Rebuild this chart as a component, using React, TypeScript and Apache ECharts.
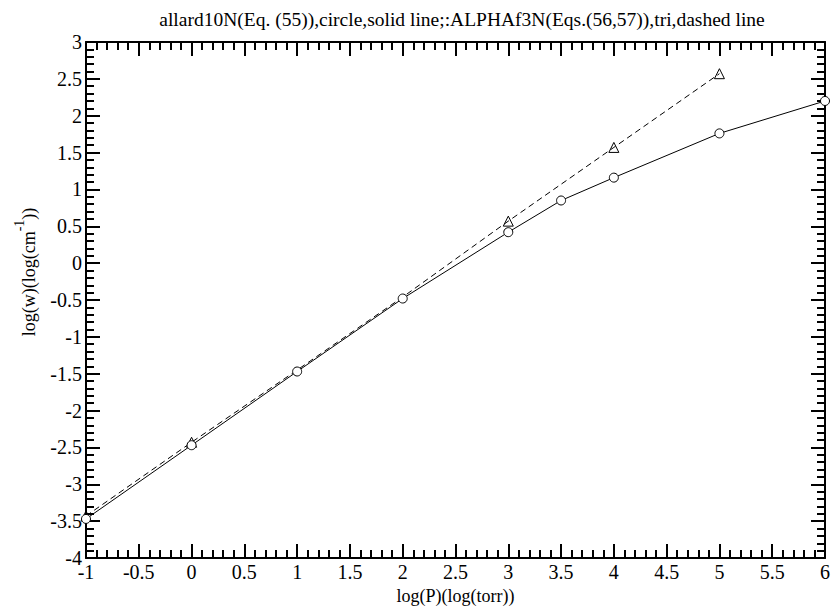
import React, { useEffect, useRef } from "react";
import * as echarts from "echarts";

const titleText = "allard10N(Eq. (55)),circle,solid line;:ALPHAf3N(Eqs.(56,57)),tri,dashed line";
const xName = "log(P)(log(torr))";
const yNameRich = "{b|log(w)(log(cm}{s|-1}{b|))}";
const circleX = [-1, 0, 1, 2, 3, 3.5, 4, 5, 6];
const circleY = [-3.47, -2.47, -1.47, -0.48, 0.42, 0.85, 1.16, 1.76, 2.2];
const triX = [-1, 0, 1, 2, 3, 4, 5];
const triY = [-3.43, -2.43, -1.45, -0.46, 0.57, 1.57, 2.57];
const triHidden = [1, 2];

const FONT = "Liberation Serif";

export default function App() {
  const ref = useRef<HTMLDivElement>(null);
  useEffect(() => {
    if (!ref.current) return;
    const chart = echarts.init(ref.current, null, { renderer: "svg" });
    const lineCol = { color: "#000", width: 2 };
    const mkLabel = () => ({
      show: true,
      color: "#000",
      fontFamily: FONT,
      fontSize: 20,
      margin: 4,
      formatter: (v: number) => "{t|" + String(v) + "}",
      rich: { t: { color: "#000", fontFamily: FONT, fontSize: 20 } },
    });
    const mkAxis = (min: number, max: number, position: string, labels: boolean) => ({
      type: "value",
      min,
      max,
      interval: 0.5,
      position,
      axisLine: { show: true, onZero: false, lineStyle: lineCol },
      axisTick: { show: true, inside: true, length: 14, lineStyle: lineCol },
      minorTick: { show: true, splitNumber: 5, length: 8, lineStyle: lineCol },
      splitLine: { show: false },
      axisLabel: labels ? mkLabel() : { show: false },
    });
    const option = {
      animation: false,
      backgroundColor: "#fff",
      textStyle: { fontFamily: FONT, fontSize: 20, color: "#000" },
      title: {
        text: titleText,
        left: 457,
        textAlign: "center",
        top: 4,
        textStyle: { color: "#000", fontFamily: FONT, fontSize: 19.5, fontWeight: "normal" },
      },
      grid: { left: 86, right: 7, top: 42, bottom: 50, containLabel: false },
      graphic: [
        {
          type: "text",
          x: 25,
          y: 272,
          rotation: Math.PI / 2,
          style: {
            text: yNameRich,
            align: "center",
            verticalAlign: "middle",
            fill: "#000",
            font: "18px " + FONT,
            rich: {
              b: { fontFamily: FONT, fontSize: 18, fill: "#000", lineHeight: 26, verticalAlign: "bottom" },
              s: { fontFamily: FONT, fontSize: 14, fill: "#000", lineHeight: 26, verticalAlign: "top", padding: [0, 0, 8, 0] },
            },
          },
        },
      ],
      xAxis: [
        {
          ...mkAxis(-1, 6, "bottom", true),
          name: xName,
          nameLocation: "middle",
          nameGap: 29,
          nameTextStyle: { color: "#000", fontFamily: FONT, fontSize: 18 },
        },
        mkAxis(-1, 6, "top", false),
      ],
      yAxis: [mkAxis(-4, 3, "left", true), mkAxis(-4, 3, "right", false)],
      series: [
        {
          type: "line",
          xAxisIndex: 0,
          yAxisIndex: 0,
          data: circleX.map((x, i) => [x, circleY[i]]),
          symbol: "circle",
          symbolSize: 9,
          showAllSymbol: true,
          lineStyle: { color: "#000", width: 1 },
          itemStyle: { color: "#fff", borderColor: "#000", borderWidth: 1 },
          z: 3,
        },
        {
          type: "line",
          xAxisIndex: 0,
          yAxisIndex: 0,
          data: triX.map((x, i) =>
            triHidden.includes(x)
              ? { value: [x, triY[i]], symbol: "none" }
              : { value: [x, triY[i]] }
          ),
          symbol: "triangle",
          symbolSize: 10,
          showAllSymbol: true,
          lineStyle: { color: "#000", width: 1, type: [6, 4] },
          itemStyle: { color: "rgba(255,255,255,0)", borderColor: "#000", borderWidth: 1 },
          z: 2,
        },
      ],
    };
    chart.setOption(option as any);
    return () => chart.dispose();
  }, []);
  return (
    <div
      ref={ref}
      style={{ position: "fixed", left: 0, top: 0, width: 833, height: 610, background: "#fff" }}
    />
  );
}
